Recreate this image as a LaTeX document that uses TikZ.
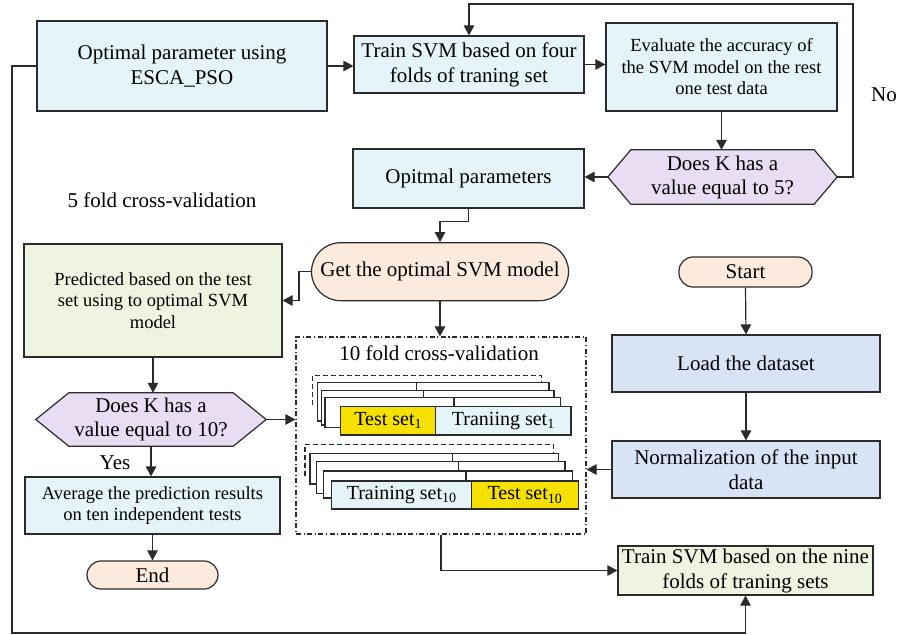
\documentclass[tikz,border=0pt]{standalone}
\usepackage{fontspec}
\setmainfont{Liberation Serif}
\usetikzlibrary{arrows.meta,backgrounds}
\definecolor{lc}{HTML}{2B2B2B}
\definecolor{cBlue}{HTML}{E5F4F8}
\definecolor{cPurple}{HTML}{E9DDF4}
\definecolor{cPeach}{HTML}{FCEBDD}
\definecolor{cGreen}{HTML}{EFF4E0}
\definecolor{cLoad}{HTML}{D8E3F6}
\definecolor{cYellow}{HTML}{F5E000}
\begin{document}
\begin{tikzpicture}[x=1pt,y=-1pt,
  every node/.style={font=\fontsize{21}{25}\selectfont, inner sep=0pt, align=center, text=black},
  small/.style={font=\fontsize{18.5}{21.5}\selectfont},
  sz/.style 2 args={minimum width=#1pt, minimum height=#2pt},
  bx/.style={draw=lc, line width=1.2pt},
  arr/.style={-{Triangle[length=10pt,width=10.5pt]}, line width=1.2pt, draw=lc},
  ln/.style={line width=1.2pt, draw=lc},
  hexst/.style={draw=lc, line width=1.2pt, fill=cPurple},
  term/.style={draw=lc, line width=1.2pt, fill=cPeach, rounded corners=14pt},
  cell/.style={draw=lc, line width=1.2pt, fill=white},
  dcell/.style={draw=lc, line width=1.2pt, dashed, dash pattern=on 5pt off 3pt}
]
\useasboundingbox (0,0) rectangle (898,635);

% top row
\node[bx, fill=cBlue, sz={290}{90}] (box1) at (182,66) {Optimal parameter using\\ESCA\_PSO};
\node[bx, fill=cBlue, sz={230}{57}] (box2) at (469,64.5) {Train SVM based on four\\folds of traning set};
\node[bx, fill=cBlue, sz={231}{88}, small] (box3) at (721.5,67) {Evaluate the accuracy of\\the SVM model on the rest\\one test data};

% hexagon K=5
\node[sz={229}{54}, font=\fontsize{21}{24}\selectfont] (hexA) at (722.5,177) {Does K has a\\value equal to 5?};
\begin{scope}[on background layer]
\draw[hexst] (hexA.west) -- ([xshift=23pt]hexA.north west) -- ([xshift=-23pt]hexA.north east) -- (hexA.east) -- ([xshift=-23pt]hexA.south east) -- ([xshift=23pt]hexA.south west) -- cycle;
\end{scope}

\node[bx, fill=cBlue, sz={231}{59}] (opt) at (468.5,178.5) {Opitmal parameters};
\node (nolab) at (884,95) {No};
\node (fivelab) at (162,200) {5 fold cross-validation};

% get optimal model
\node[term, sz={257}{58}, rounded corners=29pt] (getopt) at (440,271.7) {Get the optimal SVM model};

% left column
\node[bx, fill=cGreen, sz={258}{113}, small] (pred) at (153,300.5) {Predicted based on the test\\set using to optimal SVM\\model};
\node[sz={230}{53}, font=\fontsize{21}{24}\selectfont] (hexB) at (151,419.5) {Does K has a\\value equal to 10?};
\begin{scope}[on background layer]
\draw[hexst] (hexB.west) -- ([xshift=33pt]hexB.north west) -- ([xshift=-33pt]hexB.north east) -- (hexB.east) -- ([xshift=-33pt]hexB.south east) -- ([xshift=33pt]hexB.south west) -- cycle;
\end{scope}
\node (yeslab) at (115,463) {Yes};
\node[bx, fill=cBlue, sz={255}{57}, small] (avg) at (152.5,505.5) {Average the prediction results\\on ten independent tests};
\node[term, sz={131}{28}] (endn) at (152.5,575) {End};

% 10 fold cross validation box
\node[draw=lc, line width=1.2pt, dash pattern=on 5pt off 2.5pt on 1.2pt off 2.5pt, sz={290}{197}] (cv) at (441,435.5) {};
\node (cvlab) at (439,353) {10 fold cross-validation};

% stack 1
\draw[dcell] (312.7,405) -- (312.7,375.7) -- (541.7,375.7) -- (541.7,382);
\draw[cell] (317.7,382.3) rectangle (549,421);
\draw[ln] (416.7,382.3) -- (416.7,390.7);
\draw[cell] (321.7,390.7) rectangle (554,425);
\draw[ln] (423.3,390.7) -- (423.3,397.3);
\draw[cell] (325,397.3) rectangle (560.7,427.3);
\draw[ln] (454,397.3) -- (454,406.7);
\node[bx, fill=cYellow, sz={95}{28.3}, font=\fontsize{20}{22}\selectfont] (test1) at (388.2,420.85) {Test set\textsubscript{1}};
\node[bx, fill=cBlue, sz={135.3}{28.3}, font=\fontsize{20}{22}\selectfont] (train1) at (503.35,420.85) {Traniing set\textsubscript{1}};

% stack 10
\draw[dcell] (305,476) -- (305,444.3) -- (553.3,444.3) -- (553.3,453);
\draw[cell] (310,453.3) rectangle (558.3,484);
\draw[ln] (452.3,453.3) -- (452.3,461.7);
\draw[cell] (316.7,461.7) rectangle (565,493.3);
\draw[ln] (458.3,461.7) -- (458.3,471);
\draw[cell] (323.3,471) rectangle (572.7,498);
\draw[ln] (466,471) -- (466,481);
\node[bx, fill=cBlue, sz={140}{28}, font=\fontsize{20}{22}\selectfont] (train10) at (401.7,495) {Training set\textsubscript{10}};
\node[bx, fill=cYellow, sz={106.6}{28}, font=\fontsize{20}{22}\selectfont] (test10) at (525,495) {Test set\textsubscript{10}};

% right column
\node[term, sz={133}{30}] (start) at (745.5,272) {Start};
\node[bx, fill=cLoad, sz={268}{57}] (load) at (746,363.5) {Load the dataset};
\node[bx, fill=cLoad, sz={268}{57}] (norm) at (746,469.5) {Normalization of the input\\data};
\node[bx, fill=cGreen, sz={255}{49}] (nine) at (745.5,570.5) {Train SVM based on the nine\\folds of traning sets};

% connectors
\coordinate (nocorner) at (853,4);
\coordinate (loopcorner) at (12,633);
\draw[arr] (box1.east) -- (box1.east -| box2.west);
\draw[arr] (box2.east) -- (box2.east -| box3.west);
\draw[arr] (box3.south) -- (box3.south |- hexA.north);
\draw[arr] (hexA.east) -| (nocorner) -| (box2.north);
\draw[arr] (hexA.west) -- (hexA.west -| opt.east);
\draw[arr] (opt.south) -- ++(0,13) -| (getopt.north);
\draw[arr] (getopt.west) -- ++(-12,0) |- (pred.east);
\draw[arr] (getopt.south) -- (getopt.south |- cv.north);
\draw[arr] (pred.south) -- (pred.south |- hexB.north);
\draw[arr] (hexB.east) -- (hexB.east -| cv.west);
\draw[arr] (hexB.south) -- (hexB.south |- avg.north);
\draw[arr] (avg.south) -- (avg.south |- endn.north);
\draw[arr] (start.south) -- (load.north);
\draw[arr] (load.south) -- (norm.north);
\draw[arr] (norm.west) -- (norm.west -| cv.east);
\draw[arr] (cv.south) |- (nine.west);
\draw[arr] (box1.west) -| (loopcorner) -| (nine.south);
\end{tikzpicture}
\end{document}
